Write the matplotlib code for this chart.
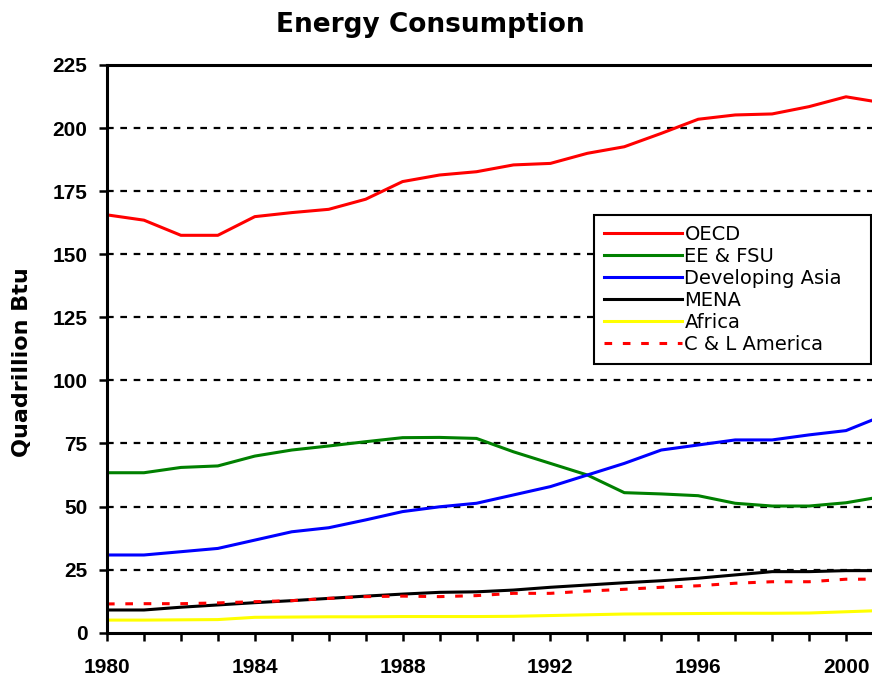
import matplotlib
matplotlib.use("Agg")
import matplotlib.pyplot as plt
from matplotlib.ticker import MultipleLocator

years = list(range(1980, 2002))
oecd = [165.6, 163.5, 157.5, 157.5, 164.9, 166.5, 167.8, 171.8, 178.8, 181.4, 182.7,
        185.4, 186.0, 190.0, 192.6, 197.9, 203.5, 205.2, 205.6, 208.5, 212.4, 210.0]
ee_fsu = [63.4, 63.4, 65.5, 66.1, 70.0, 72.4, 74.0, 75.7, 77.3, 77.4, 77.0,
          71.7, 67.1, 62.5, 55.5, 55.0, 54.3, 51.3, 50.2, 50.2, 51.5, 54.0]
dev_asia = [30.8, 30.8, 32.1, 33.4, 36.7, 40.0, 41.6, 44.7, 48.0, 49.9, 51.3,
            54.6, 57.9, 62.5, 67.1, 72.4, 74.4, 76.4, 76.4, 78.4, 80.1, 86.0]
mena = [9.0, 9.0, 10.1, 11.0, 11.9, 12.7, 13.6, 14.5, 15.3, 16.0, 16.2,
        16.9, 18.0, 18.9, 19.8, 20.6, 21.6, 22.9, 24.2, 24.2, 24.6, 24.6]
africa = [5.0, 5.0, 5.1, 5.2, 6.1, 6.2, 6.3, 6.3, 6.4, 6.4, 6.4,
          6.5, 6.8, 7.1, 7.4, 7.5, 7.6, 7.7, 7.7, 7.8, 8.3, 8.8]
cl_america = [11.4, 11.5, 11.5, 11.8, 12.3, 12.7, 13.6, 14.3, 14.5, 14.3, 14.7,
              15.6, 15.6, 16.5, 17.2, 18.0, 18.6, 19.6, 20.2, 20.2, 21.2, 21.2]

series_names = ["OECD", "EE & FSU", "Developing Asia", "MENA", "Africa", "C & L America"]

plt.rcParams['font.family'] = ['Liberation Sans', 'DejaVu Sans']

fig = plt.figure(figsize=(8.72, 6.77), dpi=100)
W, H = 872, 677
x0 = 107
px_per_year = (846 - 107) / 20.0
xmax = 2002
right_px = x0 + (xmax - 1980) * px_per_year
ax = fig.add_axes([x0 / W, 1 - 632.7 / H, (right_px - x0) / W, (632.7 - 65) / H])

lw = 2.2
ax.plot(years, oecd, color="#ff0000", lw=lw, label=series_names[0])
ax.plot(years, ee_fsu, color="#008000", lw=lw, label=series_names[1])
ax.plot(years, dev_asia, color="#0000ff", lw=lw, label=series_names[2])
ax.plot(years, mena, color="#000000", lw=lw, label=series_names[3])
ax.plot(years, africa, color="#ffff00", lw=lw, label=series_names[4])
ax.plot(years, cl_america, color="#ff0000", lw=lw, ls=(0, (2.5, 3.5)), label=series_names[5])

ax.set_xlim(1980, xmax)
ax.set_ylim(0, 225)
ax.xaxis.set_major_locator(MultipleLocator(4))
ax.xaxis.set_minor_locator(MultipleLocator(1))
ax.yaxis.set_major_locator(MultipleLocator(25))

for y in range(25, 225, 25):
    ax.axhline(y, color="black", lw=1.6, ls=(0, (3, 3)), zorder=0)

for s in ["left", "bottom", "top"]:
    ax.spines[s].set_linewidth(2.2)
ax.spines["right"].set_visible(False)

ax.tick_params(axis="both", which="both", direction="out", width=1.8, length=6,
               labelsize=15)
ax.tick_params(axis="x", pad=12)
ax.tick_params(axis="y", pad=8)
for lab in ax.get_xticklabels() + ax.get_yticklabels():
    lab.set_fontweight("bold")

fig.text(22 / W, 1 - 362 / H, "Quadrillion Btu", rotation=90, ha="center", va="center",
         fontsize=16, fontweight="bold", family="DejaVu Sans")
fig.text(430 / W, 1 - 32 / H, "Energy Consumption", ha="center", va="baseline",
         fontsize=19, fontweight="bold", family="DejaVu Sans")

leg = ax.legend(loc="upper left",
                bbox_to_anchor=(594 / W, 1 - 362 / H, 277 / W, 147 / H),
                bbox_transform=fig.transFigure, mode="expand",
                prop={"family": "DejaVu Sans", "size": 14},
                frameon=True, fancybox=False, edgecolor="black", framealpha=1.0,
                handlelength=4.0, handletextpad=0.15, labelspacing=0.16,
                borderaxespad=0, borderpad=0.5)
leg.get_frame().set_linewidth(1.5)

fig.savefig("out.png", dpi=100)
